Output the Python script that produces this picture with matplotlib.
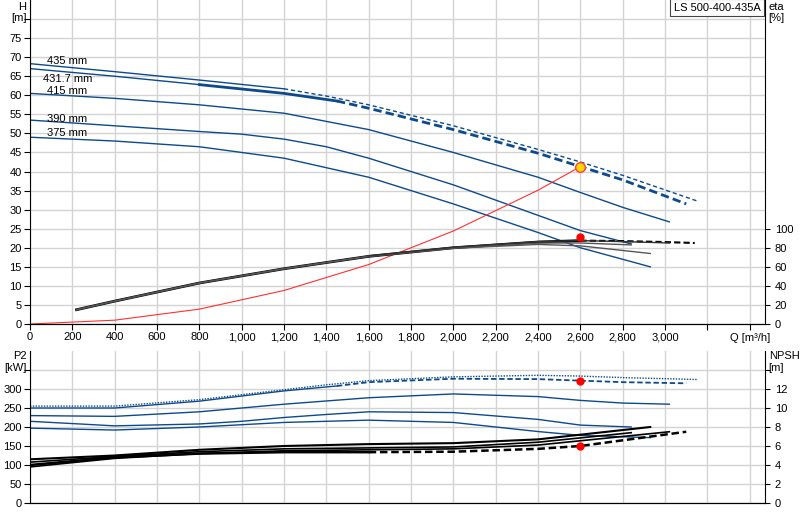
import matplotlib
matplotlib.use("Agg")
import matplotlib.pyplot as plt

plt.rcParams['font.family'] = ['Liberation Sans', 'DejaVu Sans']
plt.rcParams['font.size'] = 8

BLUE = '#0d4a8c'

# H curves (Q m3/h, H m)
q435 = [0, 400, 800, 1200, 1400, 1600, 2000, 2400, 2600, 2800, 3150]
h435 = [68.3, 66.2, 64.0, 61.7, 59.8, 57.5, 52.0, 45.8, 42.5, 39.0, 32.3]
q431 = [0, 400, 800, 1200, 1450, 1600, 2000, 2400, 2600, 2800, 3100]
h431 = [67.0, 65.0, 62.8, 60.5, 58.5, 56.6, 51.0, 44.8, 41.3, 37.8, 31.5]
q415 = [0, 400, 800, 1200, 1600, 2000, 2400, 2600, 2800, 3020]
h415 = [60.5, 59.2, 57.5, 55.3, 51.0, 45.0, 38.5, 34.5, 30.6, 26.8]
q390 = [0, 400, 800, 1000, 1200, 1400, 1600, 2000, 2400, 2600, 2840]
h390 = [53.5, 52.0, 50.5, 49.8, 48.5, 46.5, 43.5, 36.5, 28.5, 24.5, 21.0]
q375 = [0, 400, 800, 1200, 1600, 2000, 2400, 2600, 2930]
h375 = [49.0, 48.0, 46.5, 43.5, 38.5, 31.5, 24.0, 20.0, 15.0]

# system curve
qsys = [0, 400, 800, 1200, 1600, 2000, 2400, 2600]
hsys = [0, 1.0, 3.9, 8.8, 15.6, 24.4, 35.1, 41.3]

# efficiency curves (%)
qeta = [220, 400, 800, 1200, 1600, 2000, 2400, 2600, 2800, 3000, 3140]
eta431 = [15, 24, 43, 58, 71, 80, 86, 87.5, 87, 86, 85]
qeta_b = [220, 400, 800, 1200, 1600, 2000, 2400, 2600, 2840]
eta_b = [15, 24, 43, 58, 71, 80, 85, 85, 83]
qeta_c = [220, 400, 800, 1200, 1600, 2000, 2400, 2600, 2930]
eta_c = [15, 24, 43, 58, 71, 79.5, 83.5, 82, 74]
qeta_d = [1600, 2000, 2400, 2600, 2800, 3020]
eta_d = [71.5, 80.5, 86.5, 87.5, 86.5, 85]

# P2 curves (kW)
p435 = [255, 255, 272, 298, 311, 322, 332, 336, 334, 330, 325]
p431 = [250, 250, 268, 295, 308, 318, 327, 326, 322, 318, 315]
p415 = [230, 228, 240, 260, 277, 287, 280, 270, 263, 260]
p390 = [215, 203, 208, 215, 225, 233, 240, 238, 220, 205, 200]
p375 = [197, 192, 200, 212, 218, 212, 188, 178, 172]

# NPSH curves (m)
qn1 = [0, 400, 800, 1200, 1600, 2000, 2400, 2600, 3100]
n1 = [4.0, 4.8, 5.2, 5.35, 5.35, 5.4, 5.7, 6.0, 7.5]
qn2 = [0, 400, 800, 1200, 1600, 2000, 2400, 2930]
n2 = [4.6, 5.0, 5.6, 6.0, 6.2, 6.3, 6.7, 8.0]
qn3 = [0, 400, 800, 1200, 1600, 2000, 2400, 2840]
n3 = [4.3, 4.9, 5.4, 5.7, 5.8, 5.9, 6.4, 7.4]
qn4 = [0, 400, 800, 1200, 1600, 2000, 2400, 3020]
n4 = [3.8, 4.7, 5.2, 5.5, 5.6, 5.7, 6.1, 7.5]

duty_q = 2600
duty_h = 41.3
duty_eta = 91
duty_p2 = 322
duty_npsh = 6.0

labels = ['435 mm', '431.7 mm', '415 mm', '390 mm', '375 mm']
label_q = [80, 60, 80, 80, 80]
label_h = [69.0, 64.2, 61.2, 53.8, 50.0]

xlabels = ['0', '200', '400', '600', '800', '1,000', '1,200', '1,400', '1,600', '1,800',
           '2,000', '2,200', '2,400', '2,600', '2,800', '3,000']

fig = plt.figure(figsize=(8, 5.2), dpi=100)
ax = fig.add_axes([30/800, 1-324/520, 735/800, 324/520])
ax2 = ax.twinx()
bx = fig.add_axes([30/800, 1-503/520, 735/800, 152/520])
bx2 = bx.twinx()

XMAX = 3472
for a in (ax, bx):
    a.set_xlim(0, XMAX)
    a.set_xticks(list(range(0, 3401, 200)))
    a.grid(True, color='#d3d3d3', lw=1)
    a.set_axisbelow(True)
    a.spines['top'].set_visible(False)
    a.spines['right'].set_visible(False)
    a.tick_params(length=4, pad=2)
ax.set_xticklabels(xlabels + ['', ''])
bx.set_xticklabels([])
bx.tick_params(axis='x', length=0)

ax.set_ylim(0, 85)
ax.set_yticks(list(range(0, 81, 5)))
ax.set_yticklabels([str(v) for v in range(0, 76, 5)] + [''])
ax2.set_ylim(0, 340)
ax2.set_yticks(list(range(0, 101, 20)))
ax2.spines['top'].set_visible(False)
ax2.spines['left'].set_visible(False)

bx.set_ylim(0, 400)
bx.set_yticks(list(range(0, 351, 50)))
bx.set_yticklabels([str(v) for v in range(0, 301, 50)] + [''])
bx2.set_ylim(0, 16)
bx2.set_yticks(list(range(0, 15, 2)))
bx2.set_yticklabels([str(v) for v in range(0, 13, 2)] + [''])
bx2.spines['top'].set_visible(False)
bx2.spines['left'].set_visible(False)

# H curves
ax.plot(q435[:4], h435[:4], color=BLUE, lw=1)
ax.plot(q435[3:], h435[3:], color=BLUE, lw=1, ls=(0, (3, 2)))
ax.plot(q431[:3], h431[:3], color=BLUE, lw=1)
ax.plot(q431[2:5], h431[2:5], color=BLUE, lw=2)
ax.plot(q431[4:], h431[4:], color=BLUE, lw=2, ls=(0, (3, 1.5)))
ax.plot(q415, h415, color=BLUE, lw=1)
ax.plot(q390, h390, color=BLUE, lw=1)
ax.plot(q375, h375, color=BLUE, lw=1)
ax.plot(qsys, hsys, color='#ff3030', lw=0.8)

for txt, x, y in zip(labels, label_q, label_h):
    ax.text(x, y, txt, fontsize=8, va='center', ha='left')

# efficiency
ax2.plot(qeta[:8], eta431[:8], color='black', lw=2)
ax2.plot(qeta[7:], eta431[7:], color='black', lw=1.5, ls=(0, (3, 1.5)))
ax2.plot(qeta_b, eta_b, color='#555555', lw=1)
ax2.plot(qeta_c, eta_c, color='#555555', lw=1)
ax2.plot(qeta_d, eta_d, color='#333333', lw=1)
ax2.plot([duty_q], [duty_eta], 'o', color='red', ms=5)
ax.plot([duty_q], [duty_h], 'o', color='#ffd700', mec='#ff4040', ms=7, mew=1)

ax.text(-0.005, 0.995, 'H\n[m]', transform=ax.transAxes, ha='right', va='top', fontsize=8)
ax2.text(1.005, 0.995, 'eta\n[%]', transform=ax.transAxes, ha='left', va='top', fontsize=8)
ax.text(3400, -2.3, 'Q [m³/h]', ha='center', va='top', fontsize=8)
ax.text(0.994, 0.992, 'LS 500-400-435A', transform=ax.transAxes, ha='right', va='top', fontsize=8,
        bbox=dict(boxstyle='square,pad=0.35', fc='white', ec='#444444', lw=0.8))

# P2
bx.plot(q435, p435, color=BLUE, lw=1, ls=(0, (1, 1)))
bx.plot(q431[:5], p431[:5], color=BLUE, lw=1)
bx.plot(q431[4:], p431[4:], color=BLUE, lw=1.3, ls=(0, (3, 1.5)))
bx.plot(q415, p415, color=BLUE, lw=1)
bx.plot(q390, p390, color=BLUE, lw=1)
bx.plot(q375, p375, color=BLUE, lw=1)
bx.plot([duty_q], [duty_p2], 'o', color='red', ms=5)

# NPSH
bx2.plot(qn2, n2, color='black', lw=1.5)
bx2.plot(qn3, n3, color='black', lw=1.2)
bx2.plot(qn4, n4, color='black', lw=1.2)
bx2.plot(qn1[:5], n1[:5], color='black', lw=1.8)
bx2.plot(qn1[4:], n1[4:], color='black', lw=1.8, ls=(0, (3, 1.5)))
bx2.plot([duty_q], [duty_npsh], 'o', color='red', ms=5)

bx.text(-0.005, 1.0, 'P2\n[kW]', transform=bx.transAxes, ha='right', va='top', fontsize=8)
bx2.text(1.005, 1.0, 'NPSH\n[m]', transform=bx.transAxes, ha='left', va='top', fontsize=8)

fig.savefig('out.png', dpi=100, facecolor='white')
